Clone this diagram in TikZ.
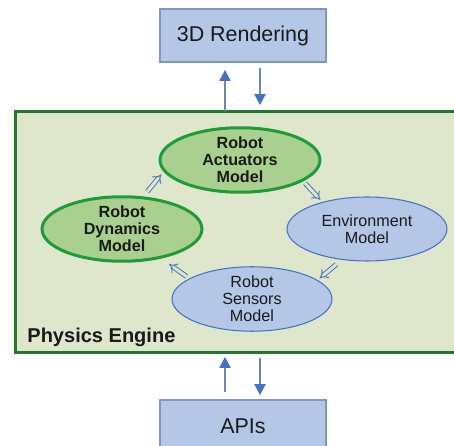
\documentclass[tikz,border=0pt]{standalone}
\usepackage{fontspec}
\setmainfont{Liberation Sans}
\usetikzlibrary{arrows.meta,shapes.geometric}

\begin{document}
\begin{tikzpicture}[x=0.02cm,y=-0.02cm,
    boxNode/.style={draw=boxEdge,fill=boxFill,line width=0.7pt,minimum width=3.32cm,minimum height=1.06cm,
        inner sep=0pt,outer sep=0pt,text=textDark,font=\fontsize{12.2}{14}\selectfont},
    modelNode/.style={ellipse,minimum width=3.2cm,minimum height=1.28cm,inner sep=0pt,outer sep=0pt,
        align=center,text=textDark},
    greenModel/.style={modelNode,draw=modelGreen,fill=modelFill,line width=1.7pt,
        font=\fontsize{9.2}{9.6}\selectfont\bfseries},
    blueModel/.style={modelNode,draw=linkBlue,fill=boxFill,line width=0.6pt,
        font=\fontsize{9.2}{9.6}\selectfont},
    flowArrow/.style={draw=shaftGray,line width=0.75pt,-{Triangle[length=6.2pt,width=6.4pt,color=linkBlue]}},
    modelLink/.style={draw=linkBlue,double=engineFill,double distance=1.7pt,line width=0.55pt,-{Implies}}
]
    \definecolor{boxFill}{HTML}{B4C7E7}
    \definecolor{boxEdge}{HTML}{8197BA}
    \definecolor{engineFill}{HTML}{DEE7CC}
    \definecolor{engineEdge}{HTML}{23782C}
    \definecolor{modelFill}{HTML}{A9D08E}
    \definecolor{modelGreen}{HTML}{1E9A38}
    \definecolor{linkBlue}{HTML}{4472C4}
    \definecolor{shaftGray}{HTML}{6F87A8}
    \definecolor{textDark}{HTML}{1A1A1A}
    \useasboundingbox (0,0) rectangle (454,446);

    \node[boxNode] (render) at (243,35.5) {3D Rendering};
    \node[boxNode] (apis) at (243,426.5) {APIs};
    \node[draw=engineEdge,fill=engineFill,line width=1.7pt,minimum width=8.82cm,minimum height=4.84cm,
        inner sep=0pt,outer sep=0pt] (engine) at (235.5,232) {};
    \node[anchor=base west,inner sep=0pt,text=textDark,font=\fontsize{11.4}{13}\selectfont\bfseries]
        (engineLabel) at ([shift={(12,-10)}]engine.south west) {Physics Engine};

    \node[greenModel] (act) at (240,160) {Robot\\Actuators\\Model};
    \node[greenModel] (dyn) at (122,229) {Robot\\Dynamics\\Model};
    \node[blueModel] (env) at (367,229) {Environment\\Model};
    \node[blueModel] (sens) at (252,299) {Robot\\Sensors\\Model};

    \draw[modelLink,shorten <=0.158cm,shorten >=0.1cm] (dyn.57.5) -- (act.188.6);
    \draw[modelLink,shorten <=0.08cm,shorten >=0.068cm] (act.342) -- (env.149.4);
    \draw[modelLink,shorten <=0.152cm,shorten >=0.064cm] (env.231.9) -- (sens.16.8);
    \draw[modelLink,shorten <=0.074cm,shorten >=0.23cm] (sens.162.2) -- (dyn.323);

    \draw[flowArrow,shorten >=0.16cm] ([xshift=-0.36cm]engine.north -| render.south) -- ([xshift=-0.36cm]render.south);
    \draw[flowArrow,shorten <=0.12cm,shorten >=0.12cm] ([xshift=0.34cm]render.south) -- ([xshift=0.34cm]engine.north -| render.south);
    \draw[flowArrow,shorten <=0.16cm,shorten >=0.08cm] ([xshift=-0.36cm]apis.north) -- ([xshift=-0.36cm]engine.south -| apis.north);
    \draw[flowArrow,shorten <=0.1cm,shorten >=0.1cm] ([xshift=0.34cm]engine.south -| apis.north) -- ([xshift=0.34cm]apis.north);
\end{tikzpicture}
\end{document}
